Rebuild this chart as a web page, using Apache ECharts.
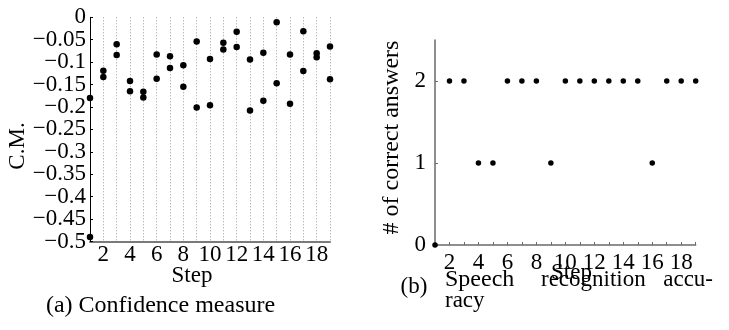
<!DOCTYPE html>
<html>
<head>
<meta charset="utf-8">
<script src="https://cdn.jsdelivr.net/npm/echarts@6/dist/echarts.min.js"></script>
<style>
  html, body { margin: 0; padding: 0; background: #fff; }
  #chart { width: 729px; height: 330px; }
</style>
</head>
<body>
<div id="chart"></div>
<script>
// Dialogue steps
const steps = [1, 2, 3, 4, 5, 6, 7, 8, 9, 10, 11, 12, 13, 14, 15, 16, 17, 18, 19];

// Confidence measure per step (two hypotheses per step)
const cmUpper = [-0.18, -0.119, -0.060, -0.142, -0.166, -0.083, -0.087, -0.107, -0.054, -0.093,
                 -0.057, -0.032, -0.094, -0.079, -0.011, -0.083, -0.031, -0.080, -0.065];
const cmLower = [-0.49, -0.133, -0.084, -0.165, -0.179, -0.137, -0.113, -0.155, -0.201, -0.196,
                 -0.072, -0.066, -0.208, -0.186, -0.147, -0.193, -0.120, -0.089, -0.138];

// Number of correct answers per step
const correctAnswers = [0, 2, 2, 1, 1, 2, 2, 2, 1, 2, 2, 2, 2, 2, 2, 1, 2, 2, 2];

// Tick labels
const stepTicks = [2, 4, 6, 8, 10, 12, 14, 16, 18];
const cmTicks = [0, -0.05, -0.1, -0.15, -0.2, -0.25, -0.3, -0.35, -0.4, -0.45, -0.5];
const correctTicks = [0, 1, 2];

// The C.M. labels sit closer together than their text height, so they are
// shared between two stacked y axes: one takes every other label.
const cmTicksA = cmTicks.filter((_, i) => i % 2 === 0);
const cmTicksB = cmTicks.filter((_, i) => i % 2 === 1);

const FONT = '"Liberation Serif", "DejaVu Serif", serif';
const MINUS = '\u2212';

function fmtCM(v) {
  const r = +Math.abs(v).toFixed(2);
  return r === 0 ? '0' : MINUS + String(r);
}

const chart = echarts.init(document.getElementById('chart'), null, { renderer: 'canvas' });

const textStyle = (extra) => Object.assign({ fontFamily: FONT, fontSize: 23, fill: '#000' }, extra);
const dotStyle = { color: '#000', opacity: 1 };
const labelBase = { fontFamily: FONT, fontSize: 23, color: '#000' };

chart.setOption({
  animation: false,
  backgroundColor: '#fff',
  grid: [
    { left: 90, top: 17.3, width: 240, height: 224.2 },
    { left: 435, top: 40, width: 260.7, height: 205 }
  ],
  xAxis: [
    {
      gridIndex: 0, type: 'value', min: 1, max: 19, interval: 1,
      axisLine: { show: true, onZero: false, lineStyle: { color: '#7a7a7a', width: 2 } },
      axisTick: { show: false },
      splitLine: { show: true, lineStyle: { color: '#9a9a9a', width: 1, type: [1, 2] } },
      axisLabel: Object.assign({}, labelBase, {
        margin: 2,
        formatter: (v) => stepTicks.includes(v) ? String(v) : ''
      })
    },
    {
      gridIndex: 1, type: 'value', min: 1, max: 19, interval: 1,
      axisLine: { show: true, onZero: false, lineStyle: { color: '#6a6a6a', width: 1.5 } },
      axisTick: { show: true, inside: true, length: 3, lineStyle: { color: '#6a6a6a', width: 1 } },
      splitLine: { show: false },
      axisLabel: Object.assign({}, labelBase, {
        margin: 6,
        formatter: (v) => stepTicks.includes(v) ? String(v) : ''
      })
    }
  ],
  yAxis: [
    {
      gridIndex: 0, type: 'value', position: 'left', offset: 0,
      min: -0.5, max: 0, interval: 0.1,
      axisLine: { show: true, onZero: false, lineStyle: { color: '#000', width: 1 } },
      axisTick: { show: true, inside: true, length: 3, customValues: cmTicks, lineStyle: { color: '#000', width: 1 } },
      splitLine: { show: false },
      axisLabel: Object.assign({}, labelBase, {
        margin: 4, showMinLabel: true, showMaxLabel: true,
        customValues: cmTicksA, formatter: fmtCM
      })
    },
    {
      gridIndex: 1, type: 'value', min: 0, max: 2.5, interval: 1,
      axisLine: { show: true, onZero: false, lineStyle: { color: '#6a6a6a', width: 1.5 } },
      axisTick: { show: true, inside: true, length: 3, customValues: correctTicks, lineStyle: { color: '#6a6a6a', width: 1 } },
      splitLine: { show: false },
      axisLabel: Object.assign({}, labelBase, {
        margin: 9, customValues: correctTicks,
        formatter: (v) => correctTicks.includes(v) ? String(v) : ''
      })
    },
    {
      gridIndex: 0, type: 'value', position: 'left', offset: 0,
      min: -0.5, max: 0, interval: 0.1,
      axisLine: { show: false },
      axisTick: { show: false },
      splitLine: { show: false },
      axisLabel: Object.assign({}, labelBase, {
        margin: 4, showMinLabel: true, showMaxLabel: true,
        customValues: cmTicksB, formatter: fmtCM
      })
    }
  ],
  series: [
    {
      type: 'scatter', xAxisIndex: 0, yAxisIndex: 0, clip: false,
      symbol: 'circle', symbolSize: 6.5, itemStyle: dotStyle,
      data: steps.map((s, i) => [s, cmUpper[i]])
    },
    {
      type: 'scatter', xAxisIndex: 0, yAxisIndex: 0, clip: false,
      symbol: 'circle', symbolSize: 6.5, itemStyle: dotStyle,
      data: steps.map((s, i) => [s, cmLower[i]])
    },
    {
      type: 'scatter', xAxisIndex: 1, yAxisIndex: 1, clip: false,
      symbol: 'circle', symbolSize: 5.5, itemStyle: dotStyle,
      data: steps.map((s, i) => [s, correctAnswers[i]])
    }
  ],
  graphic: [
    // axis titles, left panel
    { type: 'text', x: 17.5, y: 146, rotation: Math.PI / 2,
      style: textStyle({ text: 'C.M.', align: 'center', verticalAlign: 'middle' }) },
    { type: 'text', x: 192, y: 276, style: textStyle({ text: 'Step', align: 'center', verticalAlign: 'middle' }) },
    { type: 'text', x: 160.5, y: 306, style: textStyle({ text: '(a) Confidence measure', fontSize: 24, align: 'center', verticalAlign: 'middle' }) },
    // axis titles, right panel
    { type: 'text', x: 392, y: 137.5, rotation: Math.PI / 2,
      style: textStyle({ text: '# of correct answers', fontSize: 24, align: 'center', verticalAlign: 'middle' }) },
    { type: 'text', x: 571.5, y: 272.5, style: textStyle({ text: 'Step', align: 'center', verticalAlign: 'middle' }) },
    { type: 'text', x: 414, y: 287, style: textStyle({ text: '(b)', align: 'center', verticalAlign: 'middle' }) },
    { type: 'text', x: 445, y: 280, style: textStyle({ text: 'Speech', fontSize: 24, align: 'left', verticalAlign: 'middle' }) },
    { type: 'text', x: 541, y: 280, style: textStyle({ text: 'recognition', align: 'left', verticalAlign: 'middle' }) },
    { type: 'text', x: 713, y: 280, style: textStyle({ text: 'accu-', align: 'right', verticalAlign: 'middle' }) },
    { type: 'text', x: 445, y: 301, style: textStyle({ text: 'racy', align: 'left', verticalAlign: 'middle' }) }
  ]
});
</script>
</body>
</html>
